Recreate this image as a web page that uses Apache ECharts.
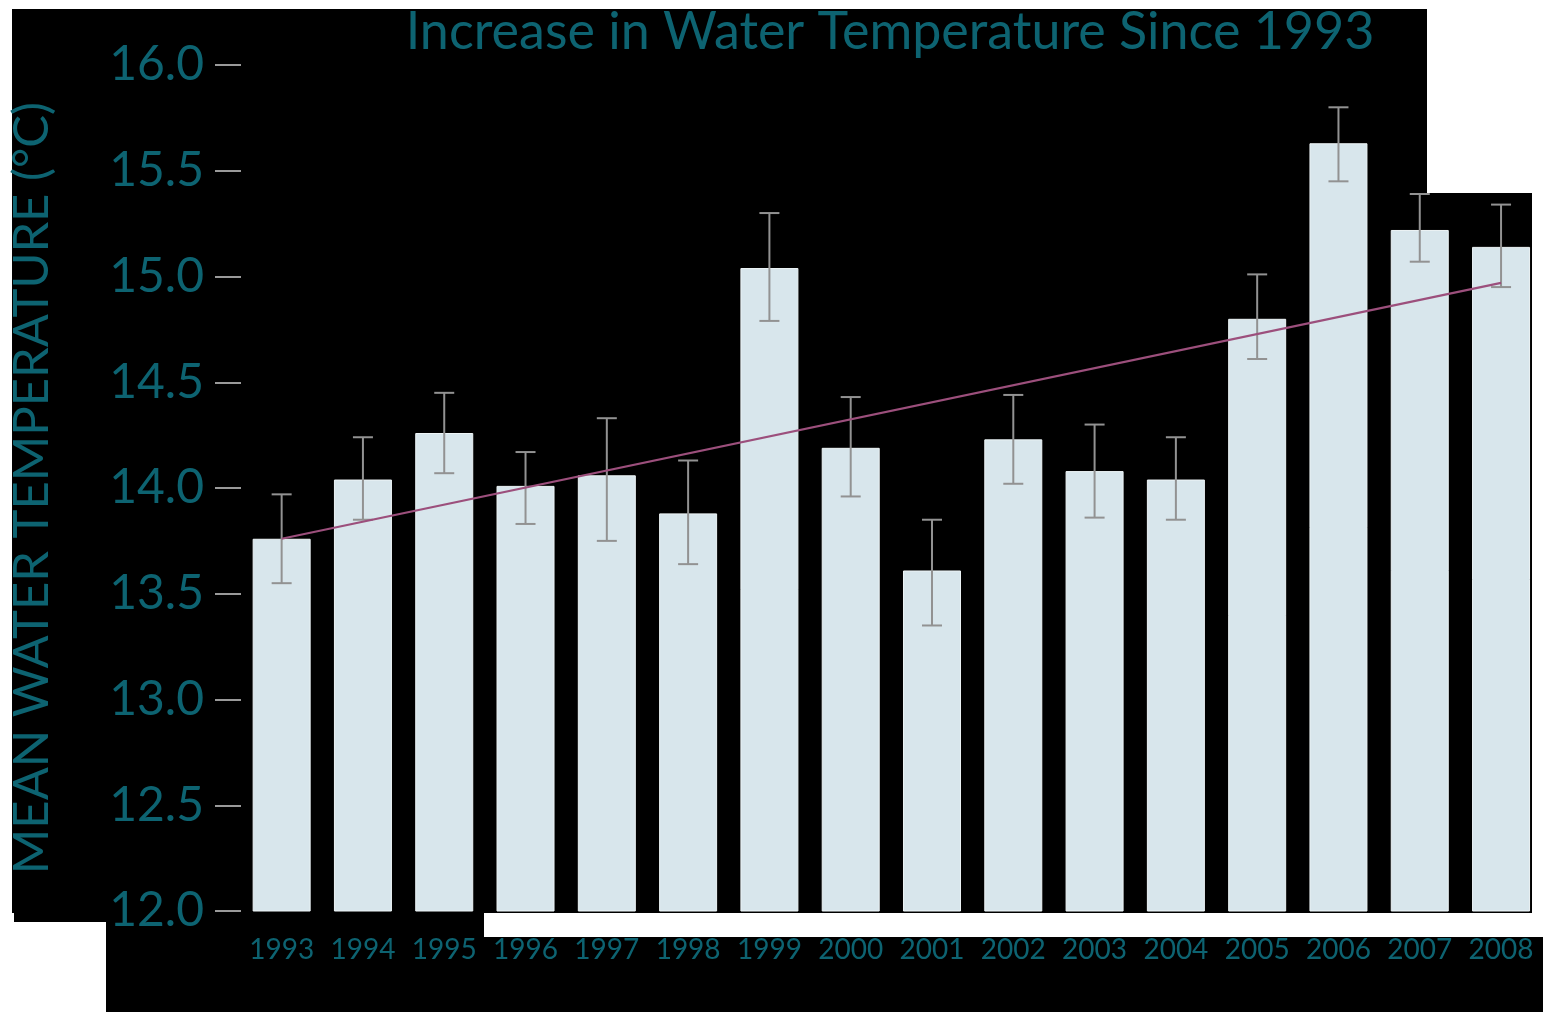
<!DOCTYPE html>
<html>
<head>
<meta charset="utf-8">
<script src="https://cdn.jsdelivr.net/npm/echarts@6/dist/echarts.min.js"></script>
<style>
html,body{margin:0;padding:0;background:#fff;}
#chart{width:1543px;height:1012px;}
</style>
</head>
<body>
<div id="chart"></div>
<script>
const years = ['1993','1994','1995','1996','1997','1998','1999','2000','2001','2002','2003','2004','2005','2006','2007','2008'];
const meanTemp = [13.76,14.04,14.26,14.01,14.06,13.88,15.04,14.19,13.61,14.23,14.08,14.04,14.80,15.63,15.22,15.14];
const errHigh = [13.97,14.24,14.45,14.17,14.33,14.13,15.30,14.43,13.85,14.44,14.30,14.24,15.01,15.80,15.39,15.34];
const errLow  = [13.55,13.85,14.07,13.83,13.75,13.64,14.79,13.96,13.35,14.02,13.86,13.85,14.61,15.45,15.07,14.95];
const trendStart = 13.76;
const trendEnd = 14.97;
const titleText = 'Increase in Water Temperature Since 1993';
const yName = 'MEAN WATER TEMPERATURE (°C)';

const teal = '#0d6371';
const font = 'Lato';

const chart = echarts.init(document.getElementById('chart'), null, {renderer:'canvas'});

const errData = years.map((y,i)=>[i, errLow[i], errHigh[i]]);

const black = {fill:'#000'};
const option = {
  backgroundColor:'#ffffff',
  animation:false,
  textStyle:{fontFamily:font},
  graphic:[
    {type:'rect', z:-10, shape:{x:12,y:9,width:1415,height:904}, style:black},
    {type:'rect', z:-10, shape:{x:14,y:465,width:100,height:457}, style:black},
    {type:'rect', z:-10, shape:{x:106,y:900,width:378,height:112}, style:black},
    {type:'rect', z:-10, shape:{x:106,y:937,width:1437,height:75}, style:black},
    {type:'rect', z:-10, shape:{x:1427,y:193,width:105,height:720}, style:black}
  ],
  title:{
    text:titleText,
    left:885, top:1, textAlign:'center',
    textStyle:{color:teal, fontSize:52, fontWeight:'normal', fontFamily:font}
  },
  grid:{left:240, right:1.3, top:65, bottom:101, containLabel:false},
  xAxis:{
    type:'category',
    data:years,
    axisLine:{show:false},
    axisTick:{show:false},
    axisLabel:{color:teal, fontSize:28, margin:25, interval:0, hideOverlap:false, fontFamily:font}
  },
  yAxis:{
    type:'value',
    min:12, max:16, interval:0.5,
    splitLine:{show:false},
    axisLine:{show:false},
    axisTick:{show:true, length:26, lineStyle:{color:'#9a9a9a', width:2}},
    axisLabel:{color:teal, fontSize:48, margin:37, fontFamily:font, formatter:v=>v.toFixed(1)},
    name:yName,
    nameLocation:'middle',
    nameGap:184,
    nameTextStyle:{color:teal, fontSize:49, fontFamily:font}
  },
  series:[
    {
      type:'bar',
      data:meanTemp,
      barWidth:58,
      itemStyle:{color:'#d8e6ec', borderColor:'#eef5f7', borderWidth:1},
      z:2
    },
    {
      type:'custom',
      data:errData,
      z:3,
      renderItem:function(params, api){
        const x = api.value(0);
        const lo = api.coord([x, api.value(1)]);
        const hi = api.coord([x, api.value(2)]);
        const cw = 10;
        const st = {stroke:'#929292', lineWidth:2};
        return {type:'group', children:[
          {type:'line', shape:{x1:hi[0],y1:hi[1],x2:lo[0],y2:lo[1]}, style:st},
          {type:'line', shape:{x1:hi[0]-cw,y1:hi[1],x2:hi[0]+cw,y2:hi[1]}, style:st},
          {type:'line', shape:{x1:lo[0]-cw,y1:lo[1],x2:lo[0]+cw,y2:lo[1]}, style:st}
        ]};
      }
    },
    {
      type:'line',
      data:[[years[0], trendStart],[years[years.length-1], trendEnd]],
      symbol:'none',
      lineStyle:{color:'#9c4f7c', width:2.2},
      z:4
    }
  ]
};
chart.setOption(option);
</script>
</body>
</html>
